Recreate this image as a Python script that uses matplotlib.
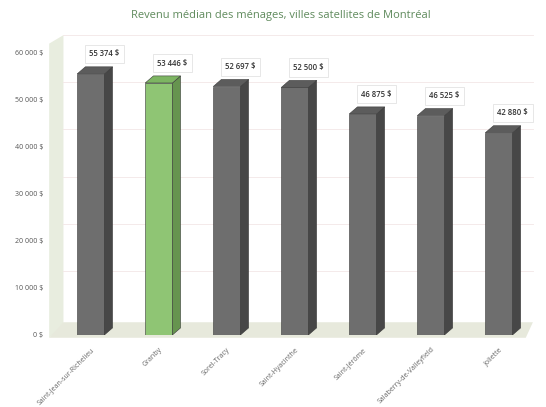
import matplotlib
matplotlib.use('Agg')
import matplotlib.pyplot as plt
from matplotlib.patches import Polygon
import matplotlib.transforms as mtransforms


villes = ['Saint-Jean-sur-Richelieu', 'Granby', 'Sorel-Tracy', 'Saint-Hyacinthe',
          'Saint-Jérôme', 'Salaberry-de-Valleyfield', 'Joliette']
revenus = [55374, 53446, 52697, 52500, 46875, 46525, 42880]
etiquettes = ['55 374 $', '53 446 $', '52 697 $', '52 500 $', '46 875 $', '46 525 $', '42 880 $']
yticks = [0, 10000, 20000, 30000, 40000, 50000, 60000]
ytick_labels = ['0 $', '10 000 $', '20 000 $', '30 000 $', '40 000 $', '50 000 $', '60 000 $']
highlight = 1

plt.rcParams['font.family'] = ['Open Sans', 'DejaVu Sans']

fig = plt.figure(figsize=(5.46, 4.07), dpi=100)
ax = fig.add_axes([0.104, 0.177, 0.872, 0.695])
ax.set_xlim(-0.5, 6.5)
ax.set_ylim(0, 60000)

# back wall + floor (3d look)
ax.add_patch(Polygon([(-0.016, -0.01), (0.014, 0.03), (0.014, 1.06), (-0.016, 1.03)],
                     closed=True, transform=ax.transAxes, clip_on=False,
                     facecolor='#e8eddf', edgecolor='none', zorder=0))
ax.add_patch(Polygon([(-0.016, -0.01), (0.985, -0.01), (1.0, 0.045), (0.014, 0.045)],
                     closed=True, transform=ax.transAxes, clip_on=False,
                     facecolor='#e7e9dc', edgecolor='none', zorder=0))

# faint gridlines on back wall
grid_tr = ax.get_yaxis_transform() + mtransforms.ScaledTranslation(0, 0.17, fig.dpi_scale_trans)
for t in yticks[1:]:
    ax.plot([0.014, 1.0], [t, t], transform=grid_tr, color='#f3e6e6', lw=0.6, zorder=0.5,
            clip_on=False)

w = 0.4
dx = 0.12
dy = 1500
for i, v in enumerate(revenus):
    if i == highlight:
        front, side, top = '#8fc574', '#66944f', '#7db562'
    else:
        front, side, top = '#6e6e6e', '#474747', '#5c5c5c'
    xl = i - w / 2
    xr = i + w / 2
    ax.bar(i, v, width=w, color=front, edgecolor='#3a3a3a', linewidth=0.4, zorder=2)
    ax.add_patch(Polygon([(xr, 0), (xr + dx, dy), (xr + dx, v + dy), (xr, v)], closed=True,
                         facecolor=side, edgecolor='#3a3a3a', linewidth=0.4, zorder=2))
    ax.add_patch(Polygon([(xl, v), (xr, v), (xr + dx, v + dy), (xl + dx, v + dy)], closed=True,
                         facecolor=top, edgecolor='#3a3a3a', linewidth=0.4, zorder=2))
    ax.annotate(etiquettes[i], (i + dx, v + dy), xytext=(4, 6), textcoords='offset points',
                ha='center', va='bottom', fontsize=5.5, color='#333333', zorder=3,
                fontweight='semibold',
                bbox=dict(boxstyle='square,pad=0.6', fc='white', ec='#dddddd', lw=0.5))

ax.set_yticks(yticks)
ax.set_yticklabels(ytick_labels, fontsize=5, color='#555555')
ax.set_xticks(range(len(villes)))
ax.set_xticklabels(villes, rotation=45, ha='right', rotation_mode='anchor',
                   fontsize=5, color='#666666')
ax.tick_params(axis='both', length=0, pad=10)
ax.tick_params(axis='x', pad=8)
for s in ax.spines.values():
    s.set_visible(False)
ax.set_facecolor('none')

fig.text(0.515, 0.962, 'Revenu médian des ménages, villes satellites de Montréal',
         ha='center', va='center', fontsize=8, color='#5f8a5c')

fig.savefig('out.png', dpi=100)
